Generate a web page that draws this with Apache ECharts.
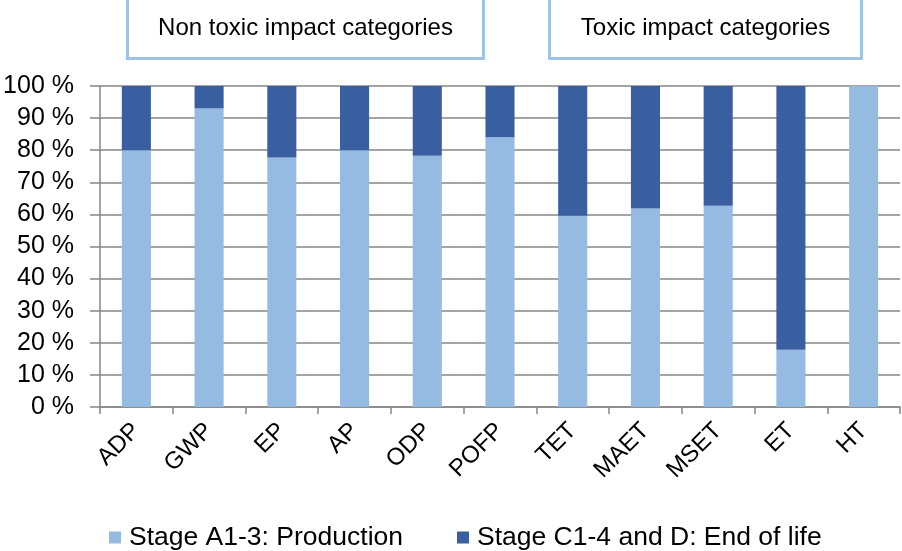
<!DOCTYPE html>
<html>
<head>
<meta charset="utf-8">
<script src="https://cdn.jsdelivr.net/npm/echarts@6/dist/echarts.min.js"></script>
<style>
  html, body { margin: 0; padding: 0; background: #fff; }
  #chart { width: 902px; height: 551px; }
</style>
</head>
<body>
<div id="chart"></div>
<script>
const categories = ['ADP', 'GWP', 'EP', 'AP', 'ODP', 'POFP', 'TET', 'MAET', 'MSET', 'ET', 'HT']
const production = [80, 93, 77.7, 80, 78.3, 84, 59.6, 61.8, 62.7, 17.8, 100]
const endOfLife = [20, 7, 22.3, 20, 21.7, 16, 40.4, 38.2, 37.3, 82.2, 0]
const yTicks = [0, 10, 20, 30, 40, 50, 60, 70, 80, 90, 100]

const chart = echarts.init(document.getElementById('chart'))

const font = 'Liberation Sans, Arial, sans-serif'
const boxColor = '#9dc3e6'

chart.setOption({
  animation: false,
  textStyle: { fontFamily: font },
  grid: { left: 100, right: 2, top: 86, bottom: 144 },
  legend: {
    bottom: -5,
    left: 104,
    itemWidth: 12,
    itemHeight: 12,
    itemGap: 54,
    icon: 'rect',
    textStyle: { fontSize: 26.5, color: '#000', fontFamily: font, padding: [0, 0, 0, 3] },
    data: ['Stage A1-3: Production', 'Stage C1-4 and D: End of life'],
  },
  xAxis: {
    type: 'category',
    data: categories,
    axisLine: { lineStyle: { color: '#868686', width: 1.5 } },
    axisTick: { show: true, length: 7, lineStyle: { color: '#868686', width: 1.5 } },
    axisLabel: { rotate: 45, fontSize: 24, color: '#000', margin: 20, fontFamily: font },
  },
  yAxis: {
    type: 'value',
    min: yTicks[0],
    max: yTicks[yTicks.length - 1],
    interval: 10,
    axisLine: { show: true, lineStyle: { color: '#868686', width: 1.5 } },
    axisTick: { show: true, length: 10, lineStyle: { color: '#868686', width: 1.5 } },
    splitLine: { lineStyle: { color: '#868686', width: 1.5 } },
    axisLabel: { formatter: '{value} %', fontSize: 25, color: '#000', margin: 26, fontFamily: font },
  },
  series: [
    {
      name: 'Stage A1-3: Production',
      type: 'bar',
      stack: 'total',
      data: production,
      barWidth: '40%',
      itemStyle: { color: '#95bbe3' },
    },
    {
      name: 'Stage C1-4 and D: End of life',
      type: 'bar',
      stack: 'total',
      data: endOfLife,
      barWidth: '40%',
      itemStyle: { color: '#3a5fa0' },
    },
  ],
  graphic: [
    {
      type: 'group',
      left: 126,
      top: -3,
      children: [
        { type: 'rect', shape: { x: 0, y: 0, width: 356, height: 60 }, style: { fill: '#fff', stroke: boxColor, lineWidth: 3 } },
        { type: 'text', x: 178, y: 30, style: { text: 'Non toxic impact categories', font: '24px ' + font, fill: '#000', align: 'center', verticalAlign: 'middle' } },
      ],
    },
    {
      type: 'group',
      left: 548,
      top: -3,
      children: [
        { type: 'rect', shape: { x: 0, y: 0, width: 312, height: 60 }, style: { fill: '#fff', stroke: boxColor, lineWidth: 3 } },
        { type: 'text', x: 156, y: 30, style: { text: 'Toxic impact categories', font: '24px ' + font, fill: '#000', align: 'center', verticalAlign: 'middle' } },
      ],
    },
  ],
})
</script>
</body>
</html>
